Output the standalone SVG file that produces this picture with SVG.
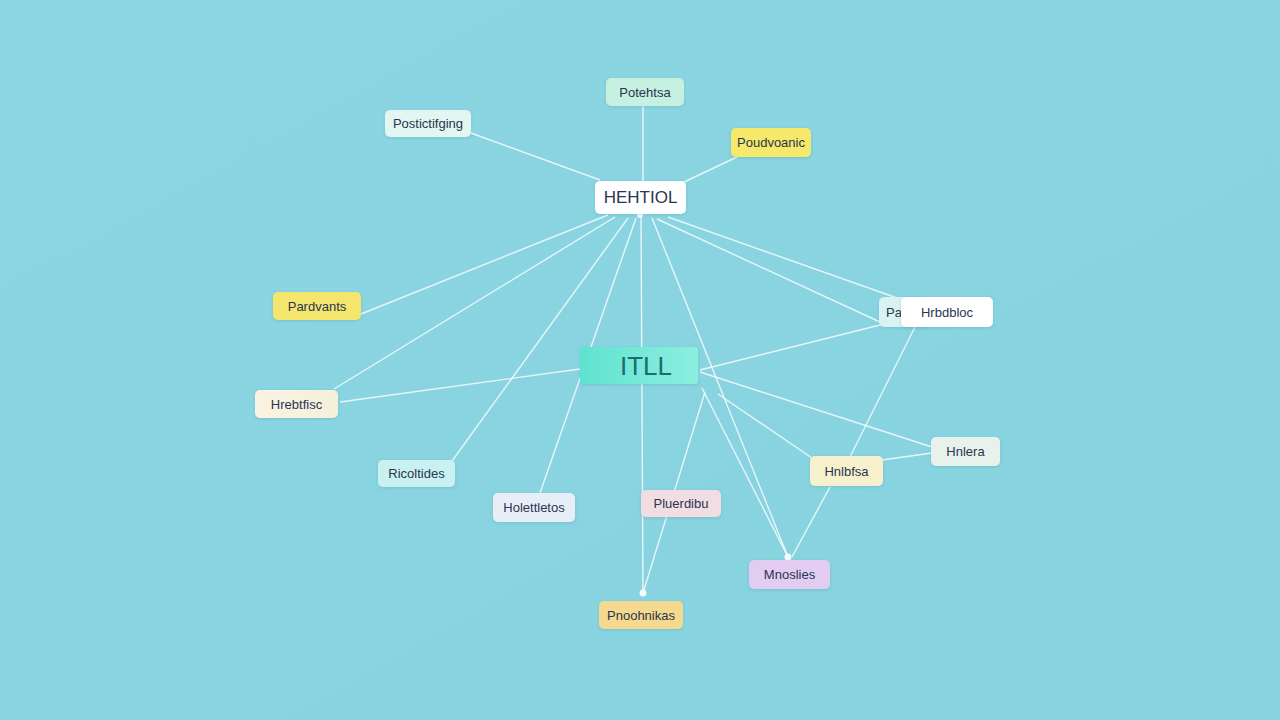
<svg xmlns="http://www.w3.org/2000/svg" width="1280" height="720" viewBox="0 0 1280 720">
<defs>
<linearGradient id="bg" x1="0" y1="0" x2="1" y2="1">
<stop offset="0" stop-color="#8bd6e2"/>
<stop offset="1" stop-color="#86d2de"/>
</linearGradient>
<linearGradient id="center" x1="0" y1="0" x2="1" y2="0">
<stop offset="0" stop-color="#5fe2cf"/>
<stop offset="1" stop-color="#8cefe0"/>
</linearGradient>
<linearGradient id="cream" x1="0" y1="0" x2="1" y2="0">
<stop offset="0" stop-color="#fbf3e2"/>
<stop offset="1" stop-color="#f4f0dc"/>
</linearGradient>
<filter id="sh" x="-20%" y="-30%" width="140%" height="160%">
<feDropShadow dx="0" dy="1" stdDeviation="1.5" flood-color="#3a8a98" flood-opacity="0.25"/>
</filter>
</defs>
<style>
.box{filter:url(#sh)}
.lbl{font-family:"Liberation Sans",Arial,sans-serif;font-size:13px;fill:#2a3550;text-anchor:middle;dominant-baseline:central}
.conn line{stroke:#ffffff;stroke-width:1.4;stroke-opacity:0.8;fill:none}
.dot{fill:#ffffff;fill-opacity:0.9}
</style>
<rect width="1280" height="720" fill="url(#bg)"/>
<g id="connectors" class="conn">
<line x1="643" y1="181" x2="643" y2="106"/>
<line x1="600" y1="180" x2="471" y2="133"/>
<line x1="682" y1="183" x2="737" y2="157"/>
<line x1="608" y1="215" x2="361" y2="314"/>
<line x1="615" y1="217" x2="334" y2="389"/>
<line x1="628" y1="218" x2="452" y2="461"/>
<line x1="636" y1="218" x2="540" y2="493"/>
<line x1="641" y1="216" x2="643" y2="593"/>
<line x1="652" y1="218" x2="788" y2="557"/>
<line x1="657" y1="219" x2="880" y2="322"/>
<line x1="668" y1="217" x2="897" y2="298"/>
<line x1="700" y1="370" x2="880" y2="325"/>
<line x1="700" y1="372" x2="932" y2="447"/>
<line x1="580" y1="369" x2="340" y2="402"/>
<line x1="702" y1="388" x2="788" y2="557"/>
<line x1="705" y1="392" x2="643" y2="593"/>
<line x1="718" y1="394" x2="812" y2="458"/>
<line x1="915" y1="327" x2="850" y2="457"/>
<line x1="882" y1="460" x2="932" y2="453"/>
<line x1="830" y1="487" x2="792" y2="557"/>
<circle class="dot" cx="643" cy="593" r="3.5"/>
<circle class="dot" cx="788" cy="557" r="3.5"/>
<circle class="dot" cx="640" cy="215" r="3"/>
</g>
<g id="node-hub">
<rect class="box" x="595" y="181" width="91" height="33" rx="5" fill="#ffffff"/>
<text class="lbl" x="640.5" y="197.5" style="font-size:17px">HEHTIOL</text>
</g>
<g id="node-top">
<rect class="box" x="606" y="78" width="78" height="28" rx="5" fill="#c6f0df"/>
<text class="lbl" x="645" y="92">Potehtsa</text>
</g>
<g id="node-topleft">
<rect class="box" x="385" y="110" width="86" height="27" rx="5" fill="#e2f6f2"/>
<text class="lbl" x="428" y="123.5">Postictifging</text>
</g>
<g id="node-topright">
<rect class="box" x="731" y="128" width="80" height="29" rx="5" fill="#f6e86a"/>
<text class="lbl" x="771" y="142.5">Poudvoanic</text>
</g>
<g id="node-leftyellow">
<rect class="box" x="273" y="292" width="88" height="28" rx="5" fill="#f4e66c"/>
<text class="lbl" x="317" y="306">Pardvants</text>
</g>
<g id="node-leftcream">
<rect class="box" x="255" y="390" width="83" height="28" rx="5" fill="url(#cream)"/>
<text class="lbl" x="296.5" y="404">Hrebtfisc</text>
</g>
<g id="node-ricoltides">
<rect class="box" x="378" y="460" width="77" height="27" rx="5" fill="#c9f1f1"/>
<text class="lbl" x="416.5" y="473.5">Ricoltides</text>
</g>
<g id="node-holettletos">
<rect class="box" x="493" y="493" width="82" height="29" rx="5" fill="#e8eef8"/>
<text class="lbl" x="534" y="507.5">Holettletos</text>
</g>
<g id="node-pluerdibu">
<rect class="box" x="641" y="490" width="80" height="27" rx="5" fill="#f1dde2"/>
<text class="lbl" x="681" y="503.5">Pluerdibu</text>
</g>
<g id="node-center">
<rect class="box" x="580" y="347" width="118" height="37" rx="3" fill="url(#center)"/>
<text class="lbl" x="646" y="366" style="font-size:26px;fill:#1b6b72">ITLL</text>
</g>
<g id="node-right">
<rect class="box" x="879" y="297" width="50" height="30" rx="5" fill="#d8f3f1"/>
<text class="lbl" x="894" y="312">Pa</text>
<rect class="box" x="901" y="297" width="92" height="30" rx="5" fill="#ffffff"/>
<text class="lbl" x="947" y="312">Hrbdbloc</text>
</g>
<g id="node-hnlbfsa">
<rect class="box" x="810" y="456" width="73" height="30" rx="5" fill="#f6f1cc"/>
<text class="lbl" x="846.5" y="471">Hnlbfsa</text>
</g>
<g id="node-hnlera">
<rect class="box" x="931" y="437" width="69" height="29" rx="5" fill="#e8f1ec"/>
<text class="lbl" x="965.5" y="451.5">Hnlera</text>
</g>
<g id="node-mnoslies">
<rect class="box" x="749" y="560" width="81" height="29" rx="5" fill="#e2ccf1"/>
<text class="lbl" x="789.5" y="574.5">Mnoslies</text>
</g>
<g id="node-bottom">
<rect class="box" x="599" y="601" width="84" height="28" rx="5" fill="#f5d98e"/>
<text class="lbl" x="641" y="615">Pnoohnikas</text>
</g>
</svg>
